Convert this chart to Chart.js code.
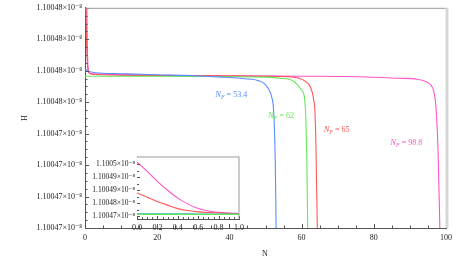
<!DOCTYPE html>
<html><head><meta charset="utf-8">
<script src="https://cdn.jsdelivr.net/npm/chart.js@4/dist/chart.umd.min.js"></script>
<style>
html,body{margin:0;padding:0;background:#fff;}
#wrap{position:relative;width:457px;height:261px;overflow:hidden;}
#main{position:absolute;left:0;top:0;}
#inset{position:absolute;left:88px;top:150px;}
</style></head><body>
<div id="wrap"><canvas id="main" width="457" height="261"></canvas><canvas id="inset" width="160" height="85"></canvas></div>
<script>
// All H values are in units of 1e-8
const yTickValues = [1.100468, 1.10047, 1.100472, 1.100474, 1.100476, 1.100478, 1.10048, 1.100482];
const yTickLabels = ['1.10047×10⁻⁸','1.10047×10⁻⁸','1.10047×10⁻⁸','1.10047×10⁻⁸','1.10048×10⁻⁸','1.10048×10⁻⁸','1.10048×10⁻⁸','1.10048×10⁻⁸'];
const xTickValues = [0, 20, 40, 60, 80, 100];
const xTickLabels = ['0', '20', '40', '60', '80', '100'];

// N_F = 53.4 (blue)
const blueN = [0, 0.5, 1, 3, 10, 20, 30, 38, 43, 46, 48, 49.5, 50.5, 51.3, 51.8, 52.1, 52.4, 52.7, 52.95, 53.1];
const blueH = [1.10047809, 1.10047803, 1.10047796, 1.10047787, 1.10047781, 1.10047774, 1.10047768, 1.10047759, 1.10047752, 1.10047746, 1.10047737, 1.10047721, 1.10047696, 1.10047664, 1.10047626, 1.10047588, 1.10047481, 1.10047229, 1.10046794, 1.10046598];
// N_F = 62 (green)
const greenN = [0, 20, 40, 50, 54, 56.5, 57.8, 58.7, 59.8, 60.6, 60.9, 61.2, 61.45, 61.7, 61.9];
const greenH = [1.10047765, 1.10047765, 1.10047762, 1.10047759, 1.10047752, 1.10047746, 1.10047733, 1.10047714, 1.10047683, 1.10047651, 1.10047607, 1.10047481, 1.10047229, 1.10046794, 1.10046598];
// N_F = 65 (red)
const redN = [0, 0.1, 0.2, 0.3, 0.4, 0.5, 0.6, 0.7, 0.8, 0.9, 1, 2, 5, 10, 30, 50, 56, 59.7, 61, 62.3, 63, 63.4, 63.7, 64, 64.35, 64.5];
const redH = [1.1004875, 1.1004855, 1.1004835, 1.1004818, 1.1004802, 1.1004793, 1.1004787, 1.1004783, 1.1004781, 1.100478, 1.1004779, 1.10047778, 1.10047774, 1.10047771, 1.10047768, 1.10047765, 1.10047762, 1.10047749, 1.10047733, 1.10047702, 1.10047658, 1.10047607, 1.10047544, 1.10047292, 1.10046794, 1.10046598];
// N_F = 98.8 (magenta)
const magN = [0, 0.1, 0.2, 0.3, 0.4, 0.5, 0.6, 0.7, 0.8, 0.9, 1, 2, 5, 20, 40, 60, 76, 87, 92, 94.2, 95.6, 96.6, 97.2, 97.8, 98.3, 98.5];
const magH = [1.1005018, 1.1004975, 1.1004929, 1.1004887, 1.100485, 1.1004822, 1.1004802, 1.100479, 1.1004784, 1.1004781, 1.1004779, 1.10047781, 1.10047778, 1.10047771, 1.10047768, 1.10047765, 1.10047762, 1.10047752, 1.10047746, 1.10047733, 1.10047714, 1.1004767, 1.10047576, 1.10047292, 1.10046794, 1.10046598];

// curve annotations
const annText = ['53.4', '62', '65', '98.8'];
const annN = [40.5, 54.3, 69.7, 89];
const annH = [1.10047651, 1.10047519, 1.10047431, 1.10047349];

// inset (N from 0 to 1)
const insetN = [0, 0.1, 0.2, 0.3, 0.4, 0.5, 0.6, 0.7, 0.8, 0.9, 1.0];
const insetMagH = [1.10049906, 1.10049477, 1.10049015, 1.1004860, 1.10048231, 1.10047954, 1.10047746, 1.10047631, 1.10047571, 1.10047538, 1.10047515];
const insetRedH = [1.10048475, 1.10048277, 1.10048078, 1.10047908, 1.10047746, 1.10047654, 1.10047594, 1.10047562, 1.10047538, 1.10047525, 1.10047515];
const insetBlueH = [1.10047506, 1.10047505, 1.10047503, 1.10047502, 1.100475, 1.10047499, 1.10047497, 1.10047496, 1.10047495, 1.10047493, 1.10047492];
const insetGreenH = [1.10047478, 1.10047478, 1.10047478, 1.10047478, 1.10047478, 1.10047478, 1.10047478, 1.10047478, 1.10047478, 1.10047478, 1.10047478];
const insetYTickValues = [1.100474, 1.10048, 1.100486, 1.100492, 1.100498];
const insetYTickLabels = ['1.10047×10⁻⁸', '1.10048×10⁻⁸', '1.10049×10⁻⁸', '1.10049×10⁻⁸', '1.1005×10⁻⁸'];
const insetXTickValues = [0, 0.2, 0.4, 0.6, 0.8, 1.0];
const insetXTickLabels = ['0.0', '0.2', '0.4', '0.6', '0.8', '1.0'];

const COLORS = {blue: '#5b8cff', green: '#62e85a', red: '#ff5656', mag: '#ff52c8'};
const FONT = '"Liberation Serif", "DejaVu Serif", serif';

function pts(xs, ys) { return xs.map((x, i) => ({x: x, y: ys[i]})); }
function ds(xs, ys, c) {
  return {data: pts(xs, ys), borderColor: c, borderWidth: 1.1, pointRadius: 0, fill: false, tension: 0.3, cubicInterpolationMode: 'monotone'};
}

function drawTicks(chart, cfg) {
  const ctx = chart.ctx, a = chart.chartArea, xs = chart.scales.x, ys = chart.scales.y;
  ctx.save();
  ctx.strokeStyle = '#555'; ctx.lineWidth = 1;
  const ym = cfg.yTicks, xm = cfg.xTicks;
  function yt(v, len) { const p = Math.round(ys.getPixelForValue(v)) + 0.5; ctx.beginPath(); ctx.moveTo(a.left, p); ctx.lineTo(a.left + len, p); ctx.stroke(); }
  function xt(v, len) { const p = Math.round(xs.getPixelForValue(v)) + 0.5; ctx.beginPath(); ctx.moveTo(p, a.bottom); ctx.lineTo(p, a.bottom - len); ctx.stroke(); }
  for (let i = 0; i < ym.length; i++) {
    yt(ym[i], cfg.major);
    if (i < ym.length - 1) for (let k = 1; k < cfg.ySub; k++) yt(ym[i] + (ym[i + 1] - ym[i]) * k / cfg.ySub, cfg.minor);
  }
  for (let i = 0; i < xm.length; i++) {
    xt(xm[i], cfg.major);
    if (i < xm.length - 1) for (let k = 1; k < cfg.xSub; k++) xt(xm[i] + (xm[i + 1] - xm[i]) * k / cfg.xSub, cfg.minor);
  }
  // frame top & right
  ctx.strokeStyle = cfg.frame;
  ctx.beginPath(); ctx.moveTo(a.left, a.top + 0.5); ctx.lineTo(a.right, a.top + 0.5); ctx.stroke();
  ctx.strokeStyle = cfg.rightColor; ctx.lineWidth = cfg.rightWidth;
  ctx.beginPath(); ctx.moveTo(a.right + cfg.rightWidth / 2 - 0.5, a.top); ctx.lineTo(a.right + cfg.rightWidth / 2 - 0.5, a.bottom); ctx.stroke();
  ctx.restore();
}

const mainPlugin = {
  id: 'mainDeco',
  beforeDraw(chart) {
    const ctx = chart.ctx; ctx.save(); ctx.fillStyle = '#fff'; ctx.fillRect(0, 0, chart.width, chart.height); ctx.restore();
  },
  afterDraw(chart) {
    drawTicks(chart, {yTicks: yTickValues, xTicks: xTickValues, major: 4, minor: 2.5, ySub: 4, xSub: 4, frame: '#999', rightColor: '#d6d6d6', rightWidth: 3});
    const ctx = chart.ctx, xs = chart.scales.x, ys = chart.scales.y;
    ctx.save();
    ctx.fillStyle = '#222';
    ctx.font = '8px ' + FONT; ctx.textAlign = 'center'; ctx.textBaseline = 'middle';
    ctx.fillText('N', 265, 254);
    ctx.translate(25, 118); ctx.rotate(-Math.PI / 2); ctx.fillText('H', 0, 0);
    ctx.restore();
    const cols = [COLORS.blue, COLORS.green, COLORS.red, COLORS.mag];
    for (let i = 0; i < annText.length; i++) {
      const cx = xs.getPixelForValue(annN[i]), cy = ys.getPixelForValue(annH[i]);
      ctx.save(); ctx.fillStyle = cols[i]; ctx.textBaseline = 'alphabetic'; ctx.textAlign = 'left';
      const f1 = 'italic 8.5px ' + FONT, f2 = 'italic 6px ' + FONT, f3 = '8px ' + FONT;
      const rest = ' = ' + annText[i];
      ctx.font = f1; const w1 = ctx.measureText('N').width;
      ctx.font = f2; const w2 = ctx.measureText('F').width;
      ctx.font = f3; const w3 = ctx.measureText(rest).width;
      let x = cx - (w1 + w2 + w3) / 2; const by = cy + 3;
      ctx.font = f1; ctx.fillText('N', x, by); x += w1;
      ctx.font = f2; ctx.fillText('F', x, by + 2); x += w2;
      ctx.font = f3; ctx.fillText(rest, x, by);
      ctx.restore();
    }
  }
};

new Chart(document.getElementById('main'), {
  type: 'line',
  data: {datasets: [ds(blueN, blueH, COLORS.blue), ds(greenN, greenH, COLORS.green), ds(redN, redH, COLORS.red), ds(magN, magH, COLORS.mag)]},
  options: {
    responsive: false, animation: false, devicePixelRatio: 1,
    layout: {padding: {top: 6, right: 9, left: 0, bottom: 0}},
    plugins: {legend: {display: false}, tooltip: {enabled: false}},
    scales: {
      x: {type: 'linear', min: 0, max: 100,
        afterBuildTicks: s => { s.ticks = xTickValues.map(v => ({value: v})); },
        afterFit: s => { s.height = 33; },
        grid: {display: false, drawTicks: false}, border: {display: true, color: '#555', width: 1},
        ticks: {padding: 5, color: '#222', font: {family: FONT, size: 8}, maxRotation: 0, autoSkip: false,
          callback: (v, i) => xTickLabels[i]}},
      y: {type: 'linear', min: yTickValues[0], max: yTickValues[yTickValues.length - 1],
        afterBuildTicks: s => { s.ticks = yTickValues.map(v => ({value: v})); },
        afterFit: s => { s.width = 85; },
        grid: {display: false, drawTicks: false}, border: {display: true, color: '#555', width: 1},
        ticks: {padding: 3, color: '#222', font: {family: FONT, size: 8}, autoSkip: false,
          callback: (v, i) => yTickLabels[i]}}
    }
  },
  plugins: [mainPlugin]
});

const insetPlugin = {
  id: 'insetDeco',
  beforeDatasetsDraw(chart) {
    const a = chart.chartArea, ctx = chart.ctx;
    ctx.save(); ctx.fillStyle = '#fff'; ctx.fillRect(a.left, a.top, a.right - a.left, a.bottom - a.top); ctx.restore();
  },
  afterDraw(chart) {
    drawTicks(chart, {yTicks: insetYTickValues, xTicks: insetXTickValues, major: 3, minor: 2, ySub: 2, xSub: 4, frame: '#999', rightColor: '#999', rightWidth: 1});
  }
};

new Chart(document.getElementById('inset'), {
  type: 'line',
  data: {datasets: [ds(insetN, insetGreenH, COLORS.green), ds(insetN, insetBlueH, '#3fa7c8'), ds(insetN, insetRedH, COLORS.red), ds(insetN, insetMagH, COLORS.mag)]},
  options: {
    responsive: false, animation: false, devicePixelRatio: 1,
    layout: {padding: {top: 6, right: 9, left: 0, bottom: 0}},
    plugins: {legend: {display: false}, tooltip: {enabled: false}},
    scales: {
      x: {type: 'linear', min: 0, max: 1,
        afterBuildTicks: s => { s.ticks = insetXTickValues.map(v => ({value: v})); },
        afterFit: s => { s.height = 16; },
        grid: {display: false, drawTicks: false}, border: {display: true, color: '#555', width: 1},
        ticks: {padding: 4, color: '#222', font: {family: FONT, size: 8}, maxRotation: 0, autoSkip: false,
          callback: (v, i) => insetXTickLabels[i]}},
      y: {type: 'linear', min: 1.10047262, max: 1.10050169,
        afterBuildTicks: s => { s.ticks = insetYTickValues.map(v => ({value: v})); },
        afterFit: s => { s.width = 49; },
        grid: {display: false, drawTicks: false}, border: {display: true, color: '#555', width: 1},
        ticks: {padding: 2, color: '#222', font: {family: FONT, size: 7.5}, autoSkip: false,
          callback: (v, i) => insetYTickLabels[i]}}
    }
  },
  plugins: [insetPlugin]
});
</script>
</body></html>
